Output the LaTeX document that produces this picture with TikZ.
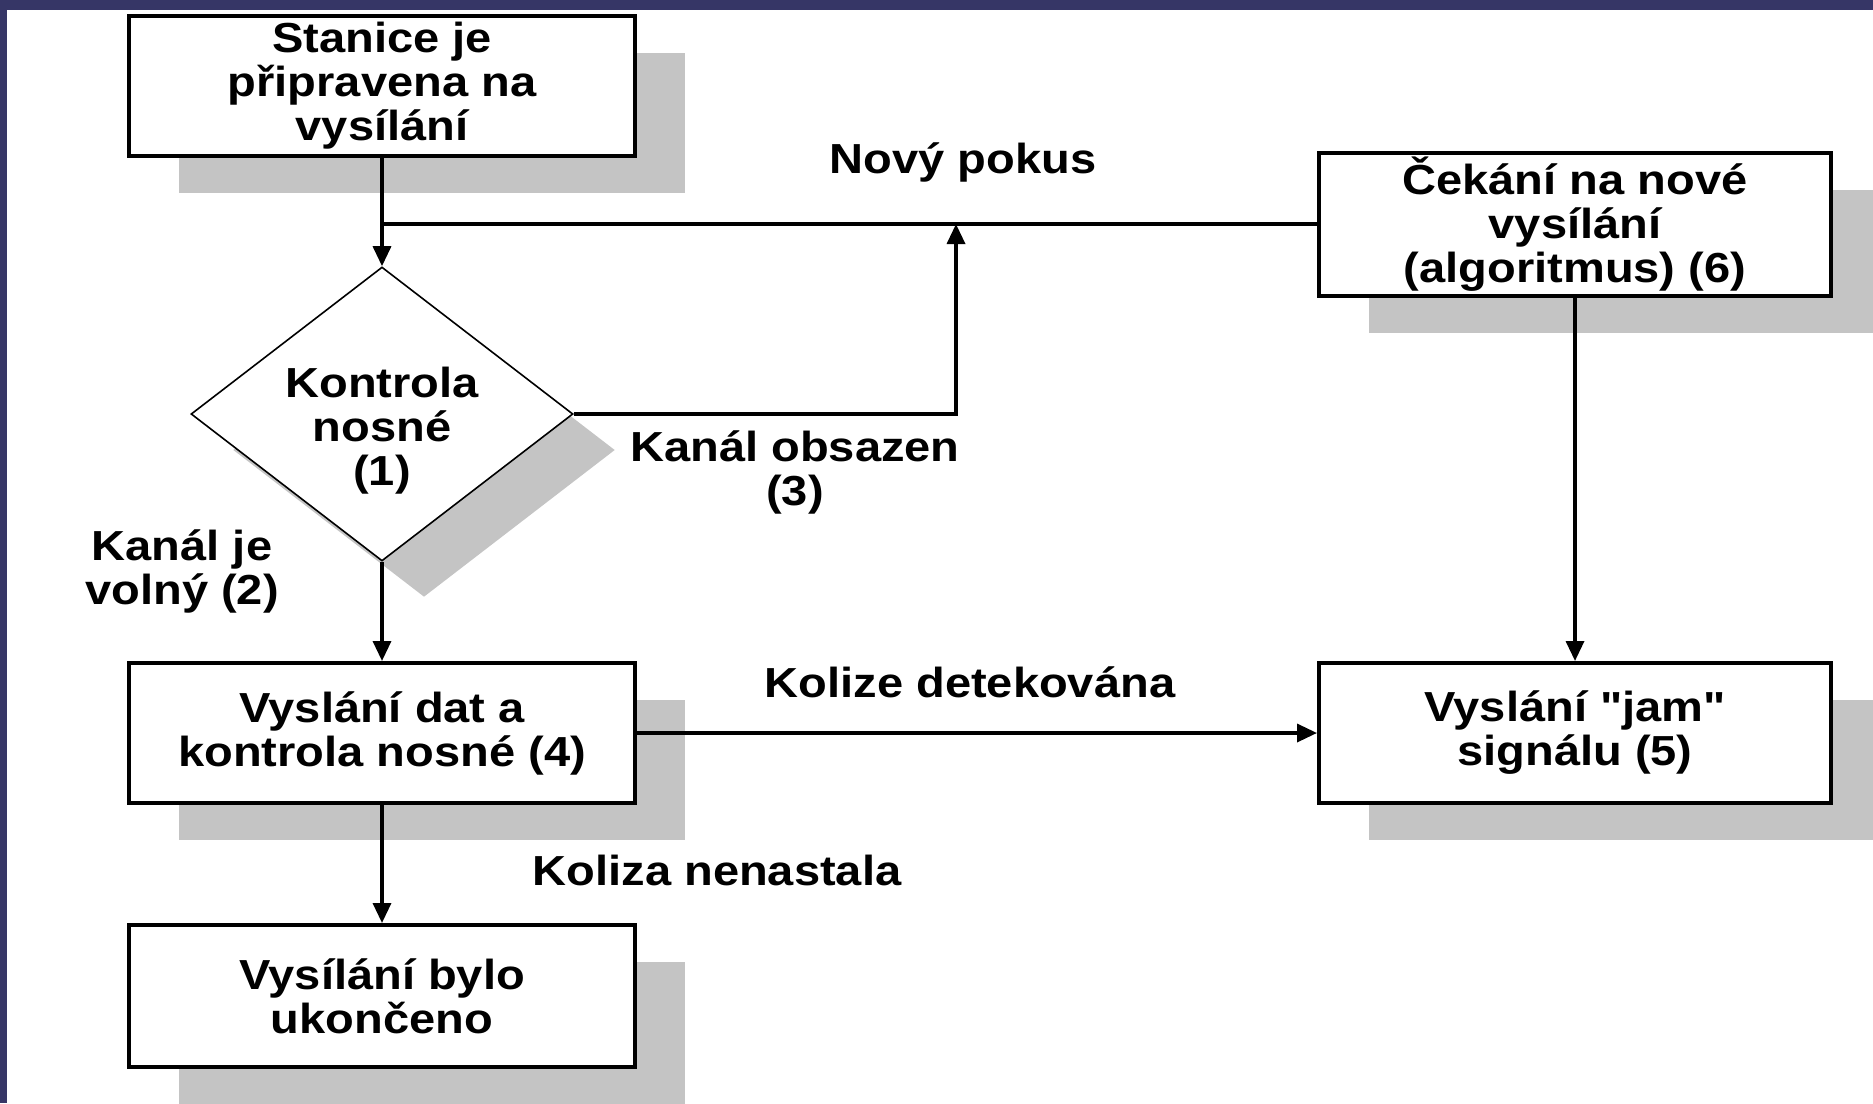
\documentclass[tikz,border=0pt]{standalone}
\usepackage{fontspec}
\usepackage{tikz}
\usetikzlibrary{arrows.meta,positioning,shapes.geometric,shadows,calc}
\newfontfamily\flowfont[FakeStretch=1.12]{Liberation Sans}
\newcommand{\flowtxt}{\flowfont\bfseries\fontsize{21}{22}\selectfont}
\definecolor{Fr}{HTML}{363666}
\definecolor{Sh}{HTML}{C4C4C4}
\tikzset{
  blk/.style={rectangle, draw=black, line width=2pt, fill=white, inner sep=0pt,
    minimum width=253pt, minimum height=70pt, align=center, font=\flowtxt,
    general shadow={fill=Sh, shadow xshift=25pt, shadow yshift=-18.5pt}},
  dia/.style={diamond, draw=black, line width=0.8pt, fill=white, inner sep=-4pt, aspect=1.3,
    minimum width=191pt, minimum height=147pt, align=center, font=\flowtxt,
    general shadow={fill=Sh, shadow xshift=21pt, shadow yshift=-18pt}},
  lbl/.style={align=center, inner sep=0pt, font=\flowtxt},
  link/.style={-{Triangle[length=10pt, width=9pt]}, line width=1.7pt},
  wire/.style={line width=1.7pt},
}

\begin{document}
\begin{tikzpicture}[x=0.5pt, y=-0.5pt]
  \useasboundingbox (0,0) rectangle (1873,1103);
  \fill[white] (0,0) rectangle (1873,1103);
  \fill[Fr] (0,0) rectangle (1873,10);
  \fill[Fr] (0,0) rectangle (7,1103);
  \node[blk] (stanice) at (382,86) {Stanice je\\připravena na\\vysílání};
  \node[dia] (kontrola) at (382,414) {\rule{0pt}{32pt}Kontrola\\nosné\\(1)};
  \node[blk, minimum width=256pt, minimum height=71.5pt] (cekani) at (1575,224) {Čekání na nové\\vysílání\\(algoritmus) (6)};
  \node[blk] (data) at (382,733) {Vyslání dat a\\kontrola nosné (4)};
  \node[blk, minimum width=256pt] (jam) at (1575,733) {Vyslání "jam"\\signálu (5)};
  \node[blk, minimum height=71pt] (konec) at (382,996) {Vysílání bylo\\ukončeno};
  \node[lbl] (pokus) at (963,162) {Nový pokus};
  \node[lbl] (obsazen) at (795,472) {Kanál obsazen\\(3)};
  \node[lbl] (volny) at (182,571) {Kanál je\\volný (2)};
  \node[lbl] (detekce) at (970,682) {Kolize detekována};
  \node[lbl] (nenastala) at (717,870) {Koliza nenastala};
  \coordinate (spoj) at (stanice.south |- cekani.west);
  \coordinate (zpet) at (956,224);
  \draw[link] (stanice.south) -- (kontrola.north);
  \draw[wire] (cekani.west) -- (spoj);
  \draw[link] (kontrola.east) -| (zpet);
  \draw[link] (kontrola.south) -- (data.north);
  \draw[link] (data.east) -- (jam.west);
  \draw[link] (cekani.south) -- (jam.north);
  \draw[link] (data.south) -- (konec.north);
\end{tikzpicture}
\end{document}
